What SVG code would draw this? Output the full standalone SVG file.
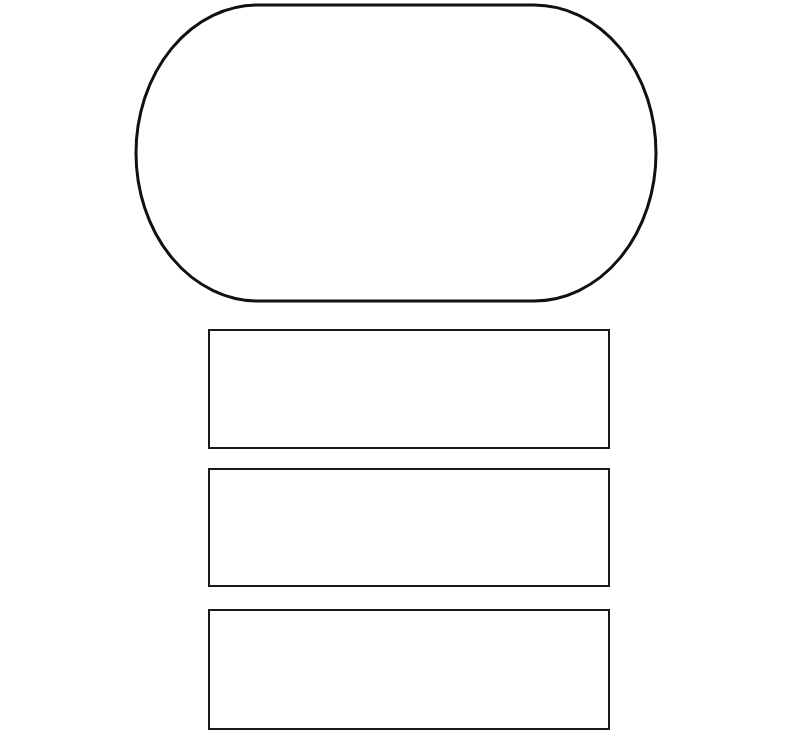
<svg xmlns="http://www.w3.org/2000/svg" width="794" height="752" viewBox="0 0 794 752">
<style>
.box{fill:#fff;stroke:#1a1a1a;stroke-width:2}
.term{fill:#fff;stroke:#111;stroke-width:3}
</style>
<rect width="794" height="752" fill="#fff"/>
<g id="n0"><rect class="term" x="136" y="5" width="520" height="296" rx="122" ry="148"/></g>
<g id="n1"><rect class="box" x="209" y="330" width="400" height="118"/></g>
<g id="n2"><rect class="box" x="209" y="469" width="400" height="117"/></g>
<g id="n3"><rect class="box" x="209" y="610" width="400" height="119"/></g>
<g id="connectors"></g>
</svg>
